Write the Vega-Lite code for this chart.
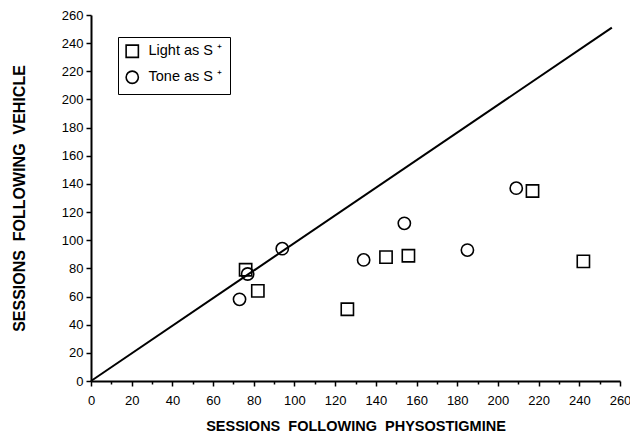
{
  "$schema": "https://vega.github.io/schema/vega-lite/v6.json",
  "autosize": "none",
  "width": 529,
  "height": 366,
  "padding": {"left": 91, "top": 15, "right": 10, "bottom": 56},
  "background": "white",
  "config": {
    "view": {"stroke": null},
    "font": "Liberation Sans",
    "axis": {
      "grid": false,
      "domainColor": "black",
      "domainWidth": 2,
      "tickColor": "black",
      "tickWidth": 1.5,
      "labelColor": "black",
      "labelFont": "Liberation Sans",
      "labelFontSize": 13,
      "titleFont": "Liberation Sans",
      "titleFontWeight": "bold",
      "titleColor": "black"
    },
    "legend": {
      "labelFont": "Liberation Sans",
      "labelFontSize": 14.5,
      "labelColor": "black"
    }
  },
  "datasets": {
    "points": [
      {"physostigmine": 76, "vehicle": 79, "group": "Light as S ⁺"},
      {"physostigmine": 82, "vehicle": 64, "group": "Light as S ⁺"},
      {"physostigmine": 126, "vehicle": 51, "group": "Light as S ⁺"},
      {"physostigmine": 145, "vehicle": 88, "group": "Light as S ⁺"},
      {"physostigmine": 156, "vehicle": 89, "group": "Light as S ⁺"},
      {"physostigmine": 217, "vehicle": 135, "group": "Light as S ⁺"},
      {"physostigmine": 242, "vehicle": 85, "group": "Light as S ⁺"},
      {"physostigmine": 73, "vehicle": 58, "group": "Tone as S ⁺"},
      {"physostigmine": 77, "vehicle": 76, "group": "Tone as S ⁺"},
      {"physostigmine": 94, "vehicle": 94, "group": "Tone as S ⁺"},
      {"physostigmine": 134, "vehicle": 86, "group": "Tone as S ⁺"},
      {"physostigmine": 154, "vehicle": 112, "group": "Tone as S ⁺"},
      {"physostigmine": 185, "vehicle": 93, "group": "Tone as S ⁺"},
      {"physostigmine": 209, "vehicle": 137, "group": "Tone as S ⁺"}
    ],
    "diagonal": [
      {"physostigmine": 0, "vehicle": 0},
      {"physostigmine": 256, "vehicle": 251}
    ]
  },
  "encoding": {
    "x": {
      "field": "physostigmine",
      "type": "quantitative",
      "scale": {"domain": [0, 260], "nice": false, "zero": true},
      "axis": {
        "title": "SESSIONS\u00a0 FOLLOWING\u00a0 PHYSOSTIGMINE",
        "titleFontSize": 14.5,
        "values": [0,10,20,30,40,50,60,70,80,90,100,110,120,130,140,150,160,170,180,190,200,210,220,230,240,250,260],
        "labelExpr": "datum.value % 20 === 0 ? datum.label : ''",
        "tickSize": {"condition": {"test": "datum.value % 20 === 0", "value": 5}, "value": 3},
        "labelPadding": 8,
        "titlePadding": 12,
        "labelFlush": false,
        "labelOverlap": false
      }
    },
    "y": {
      "field": "vehicle",
      "type": "quantitative",
      "scale": {"domain": [0, 260], "nice": false, "zero": true},
      "axis": {
        "title": "SESSIONS\u00a0 FOLLOWING\u00a0 VEHICLE",
        "titleFontSize": 16,
        "values": [0,20,40,60,80,100,120,140,160,180,200,220,240,260],
        "tickSize": 5,
        "labelPadding": 3,
        "titlePadding": 34,
        "labelFlush": false,
        "labelOverlap": false
      }
    }
  },
  "layer": [
    {
      "data": {"name": "diagonal"},
      "mark": {"type": "line", "color": "black", "strokeWidth": 2, "clip": false}
    },
    {
      "data": {"name": "points"},
      "mark": {"type": "point", "filled": false, "stroke": "black", "strokeWidth": 1.6, "opacity": 1},
      "encoding": {
        "shape": {
          "field": "group",
          "type": "nominal",
          "scale": {"domain": ["Light as S ⁺", "Tone as S ⁺"], "range": ["square", "circle"]},
          "legend": {
            "title": null,
            "orient": "none",
            "legendX": 27,
            "legendY": 22,
            "strokeColor": "black",
            "fillColor": "white",
            "padding": 7,
            "rowPadding": 6,
            "symbolSize": 150,
            "symbolStrokeWidth": 1.6,
            "symbolStrokeColor": "black",
            "symbolFillColor": "white",
            "labelOffset": 9
          }
        },
        "size": {"value": 150}
      }
    }
  ]
}
